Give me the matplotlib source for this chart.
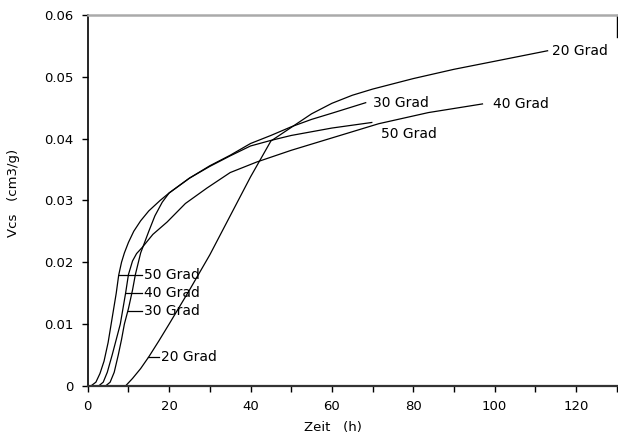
import numpy as np
import matplotlib
matplotlib.use("Agg")
import matplotlib.pyplot as plt

plt.rcParams['font.family'] = ['DejaVu Sans']

# Vcs (cm3/g) over time (h) at four temperatures
t_20 = [9.3, 11, 13, 15, 17.5, 20, 25, 30, 35, 40, 45, 50, 55, 60, 65, 70, 80, 90, 100, 113]
v_20 = [0.0, 0.0012, 0.0028, 0.0047, 0.0073, 0.0100, 0.0155, 0.0212, 0.0275, 0.0338, 0.0396, 0.0418,
        0.0440, 0.0457, 0.0470, 0.0480, 0.0497, 0.0512, 0.0525, 0.0542]

t_30 = [4.4, 5.5, 6.5, 7.5, 8.3, 9, 10, 11, 11.7, 13, 15, 16.5, 18.3, 20, 25, 30, 35, 40, 45, 50, 55, 60, 68.3]
v_30 = [0.0, 0.0006, 0.0022, 0.0050, 0.0075, 0.0100, 0.0125, 0.0155, 0.0180, 0.0215, 0.0250, 0.0275,
        0.0297, 0.0312, 0.0336, 0.0356, 0.0373, 0.0392, 0.0405, 0.0419, 0.0431, 0.0441, 0.0458]

t_40 = [2.7, 3.8, 4.8, 6, 7, 8, 9.3, 10, 11, 12, 13.4, 16, 19.5, 24, 29.3, 35, 41.5, 50, 60, 71.5, 83.7, 97]
v_40 = [0.0, 0.0006, 0.0022, 0.0050, 0.0075, 0.0100, 0.0150, 0.0180, 0.0202, 0.0214, 0.0224, 0.0245,
        0.0265, 0.0295, 0.0320, 0.0345, 0.0362, 0.0381, 0.0401, 0.0424, 0.0442, 0.0456]

t_50 = [0.8, 2, 3, 4, 5, 6, 7, 7.6, 8.3, 9, 10, 11.3, 13, 15, 17.8, 20, 25, 30, 35, 40, 45, 50, 60, 69.8]
v_50 = [0.0, 0.0006, 0.0020, 0.0040, 0.0070, 0.0110, 0.0150, 0.0179, 0.0200, 0.0215, 0.0232, 0.0250,
        0.0267, 0.0283, 0.0300, 0.0312, 0.0336, 0.0355, 0.0372, 0.0388, 0.0397, 0.0405, 0.0417, 0.0426]

end_labels = ["20 Grad", "30 Grad", "40 Grad", "50 Grad"]
end_pos = [(114.2, 0.0542), (70.0, 0.0458), (99.5, 0.0456), (72.0, 0.0408)]

# leader lines at the steep start: (x0, x1, y) per label
start_labels = ["50 Grad", "40 Grad", "30 Grad", "20 Grad"]
start_lead = [(7.6, 13.4, 0.0179), (9.3, 13.4, 0.0150), (10.0, 13.4, 0.0121), (14.9, 17.6, 0.0047)]

fig = plt.figure(figsize=(6.18, 4.38), dpi=100)
ax = fig.add_axes([0.142, 0.119, 0.856, 0.847])

for t, v in [(t_20, v_20), (t_30, v_30), (t_40, v_40), (t_50, v_50)]:
    ax.plot(t, v, color='black', lw=0.9)

fs = 10
for lab, (x, y) in zip(end_labels, end_pos):
    ax.text(x, y, lab, fontsize=fs, va='center', ha='left', clip_on=False)

for lab, (x0, x1, y) in zip(start_labels, start_lead):
    ax.plot([x0, x1], [y, y], color='black', lw=0.9)
    ax.text(x1 + 0.4, y, lab, fontsize=fs, va='center', ha='left')

ax.set_xlim(0, 130)
ax.set_ylim(0, 0.06)
ax.set_xticks(np.arange(0, 121, 20))
ax.set_xticks(np.arange(0, 131, 10), minor=True)
ax.set_yticks([0, 0.01, 0.02, 0.03, 0.04, 0.05, 0.06])
ax.set_yticklabels(['0', '0.01', '0.02', '0.03', '0.04', '0.05', '0.06'])
ax.tick_params(axis='both', direction='out', length=4.5, width=1, labelsize=9.5, pad=6)
ax.tick_params(axis='x', which='minor', direction='out', length=4.5, width=1)

ax.spines['top'].set_color('#aaaaaa')
ax.spines['top'].set_linewidth(1.8)
ax.spines['bottom'].set_color('#333333')
ax.spines['bottom'].set_linewidth(1.6)
ax.spines['left'].set_linewidth(1.2)
ax.spines['right'].set_bounds(0.0565, 0.06)
ax.spines['right'].set_linewidth(1.0)

ax.set_xlabel('Zeit   (h)', fontsize=9.5)
ax.xaxis.set_label_coords(0.463, -0.095)
fig.text(0.022, 0.56, 'Vcs   (cm3/g)', rotation=90, fontsize=9.5, va='center', ha='center')

fig.savefig('out.png', dpi=100, facecolor='white')
